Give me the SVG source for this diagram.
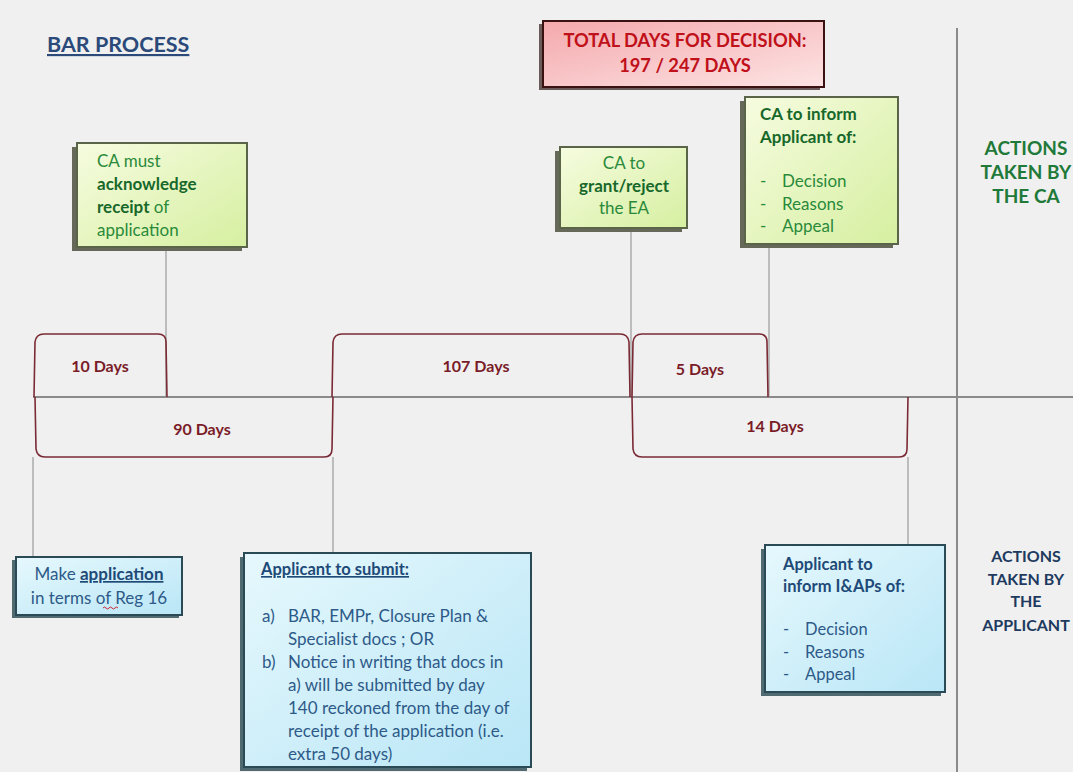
<svg xmlns="http://www.w3.org/2000/svg" width="1073" height="772" viewBox="0 0 1073 772">
<defs>
<linearGradient id="gGreen" x1="0" y1="0" x2="1" y2="1">
<stop offset="0" stop-color="#f6fce0"/>
<stop offset="1" stop-color="#d6efa0"/>
</linearGradient>
<linearGradient id="gBlue" x1="0" y1="0" x2="1" y2="1">
<stop offset="0" stop-color="#e6f8fd"/>
<stop offset="1" stop-color="#b9e6f6"/>
</linearGradient>
<linearGradient id="gPink" x1="0" y1="0" x2="1" y2="1">
<stop offset="0" stop-color="#f4a9ad"/>
<stop offset="1" stop-color="#fde4e4"/>
</linearGradient>
<style>
text{font-family:Lato,"Liberation Sans",sans-serif;}
.gbox{fill:url(#gGreen);stroke:#5a6448;stroke-width:2;}
.bbox{fill:url(#gBlue);stroke:#2a4a55;stroke-width:2;}
.gsh{fill:#66685a;}
.bsh{fill:#4f6a70;}
.gt{font-size:17px;fill:#2a8a3a;}
.gtb{font-weight:bold;fill:#17682a;}
.bt{font-size:16.5px;fill:#2d5a88;}
.bt2{font-size:17px;fill:#2d5a88;}
.btb{font-weight:bold;fill:#1e4a78;}
.day{font-size:16px;font-weight:bold;fill:#7a1c28;text-anchor:middle;}
.conn{stroke:#9a9a9a;stroke-width:1.2;fill:none;}
.axis{stroke:#8a8a8a;stroke-width:2;fill:none;}
.brk{stroke:#7a2a35;stroke-width:1.6;fill:none;}
.lca{font-size:19px;font-weight:bold;fill:#1f7a3a;text-anchor:middle;}
.lap{font-size:16px;font-weight:bold;fill:#1e3a5f;text-anchor:middle;}
</style>
</defs>
<rect x="0" y="0" width="1073" height="772" fill="#f0f0f0"/>

<g id="connectors">
<line class="axis" x1="33" y1="397" x2="1073" y2="397"/>
<line class="axis" x1="957" y1="28" x2="957" y2="772"/>
<line class="conn" x1="166" y1="247" x2="166" y2="397"/>
<line class="conn" x1="631" y1="228" x2="631" y2="397"/>
<line class="conn" x1="769" y1="244" x2="769" y2="397"/>
<line class="conn" x1="33" y1="457" x2="33" y2="557"/>
<line class="conn" x1="333" y1="457" x2="333" y2="553"/>
<line class="conn" x1="908" y1="457" x2="908" y2="545"/>
<path class="brk" d="M34,397 L35,342 Q36,334 44,334 L158,334 Q166,334 166,342 L167,397"/>
<path class="brk" d="M332,397 L333,342 Q334,334 342,334 L620,334 Q628,334 629,342 L630,397"/>
<path class="brk" d="M632,397 L633,342 Q634,334 642,334 L759,334 Q767,334 767,342 L768,397"/>
<path class="brk" d="M35,397 L36,449 Q37,457 45,457 L324,457 Q332,457 332,449 L333,397"/>
<path class="brk" d="M632,397 L633,449 Q634,457 642,457 L899,457 Q907,457 907,449 L908,397"/>
</g>

<g id="durations">
<text class="day" x="100" y="372">10 Days</text>
<text class="day" x="476" y="372">107 Days</text>
<text class="day" x="700" y="375">5 Days</text>
<text class="day" x="202" y="435">90 Days</text>
<text class="day" x="775" y="432">14 Days</text>
</g>

<g id="title">
<text x="47" y="52" font-size="21.5" font-weight="bold" fill="#2b4a7a" text-decoration="underline">BAR PROCESS</text>
</g>

<g id="total">
<rect x="539" y="24" width="281" height="66" fill="#6a5a5a"/>
<rect x="543" y="21" width="281" height="66" fill="url(#gPink)" stroke="#3a1212" stroke-width="2"/>
<text x="685" y="47" font-size="18.3" font-weight="bold" fill="#c0101a" text-anchor="middle">TOTAL DAYS FOR DECISION:</text>
<text x="685" y="72" font-size="18.3" font-weight="bold" fill="#c0101a" text-anchor="middle">197 / 247 DAYS</text>
</g>

<g id="ca-acknowledge">
<rect class="gsh" x="72" y="147" width="170" height="104"/>
<rect class="gbox" x="77" y="143" width="170" height="104"/>
<text class="gt" x="97" y="167">CA must</text>
<text class="gt gtb" x="97" y="190">acknowledge</text>
<text class="gt" x="97" y="213"><tspan class="gtb">receipt</tspan> of</text>
<text class="gt" x="97" y="236">application</text>
</g>

<g id="ca-grant">
<rect class="gsh" x="555" y="151" width="127" height="81"/>
<rect class="gbox" x="560" y="147" width="127" height="81"/>
<text class="gt" x="624" y="169" text-anchor="middle">CA to</text>
<text class="gt gtb" x="624" y="192" text-anchor="middle">grant/reject</text>
<text class="gt" x="624" y="214" text-anchor="middle">the EA</text>
</g>

<g id="ca-inform">
<rect class="gsh" x="740" y="101" width="153" height="147"/>
<rect class="gbox" x="745" y="97" width="153" height="147"/>
<text class="gt gtb" x="760" y="120">CA to inform</text>
<text class="gt gtb" x="760" y="143">Applicant of:</text>
<text class="gt" x="760" y="187">-</text><text class="gt" x="782" y="187">Decision</text>
<text class="gt" x="760" y="210">-</text><text class="gt" x="782" y="210">Reasons</text>
<text class="gt" x="760" y="232">-</text><text class="gt" x="782" y="232">Appeal</text>
</g>

<g id="ca-label">
<text class="lca" x="1026" y="155">ACTIONS</text>
<text class="lca" x="1026" y="179">TAKEN BY</text>
<text class="lca" x="1026" y="203">THE CA</text>
</g>

<g id="make-application">
<rect class="bsh" x="12" y="560" width="167" height="58"/>
<rect class="bbox" x="16" y="557" width="166" height="58"/>
<text class="bt2" x="99" y="580" text-anchor="middle">Make <tspan class="btb" text-decoration="underline">application</tspan></text>
<text class="bt2" x="99" y="604" text-anchor="middle">in terms of Reg 16</text>
<path d="M103,608 q1.5,-2 3,0 t3,0 t3,0 t3,0 t3,0" stroke="#d02030" stroke-width="1" fill="none"/>
</g>

<g id="applicant-submit">
<rect class="bsh" x="240" y="557" width="287" height="214"/>
<rect class="bbox" x="244" y="553" width="287" height="214"/>
<text class="bt btb" x="261" y="575" font-size="16" text-decoration="underline">Applicant to submit:</text>
<text class="bt2" x="262" y="622">a)</text><text class="bt2" x="288" y="622">BAR, EMPr, Closure Plan &amp;</text>
<text class="bt2" x="288" y="645">Specialist docs ; OR</text>
<text class="bt2" x="262" y="668">b)</text><text class="bt2" x="288" y="668">Notice in writing that docs in</text>
<text class="bt2" x="288" y="691">a) will be submitted by day</text>
<text class="bt2" x="288" y="714">140 reckoned from the day of</text>
<text class="bt2" x="288" y="737">receipt of the application (i.e.</text>
<text class="bt2" x="288" y="760">extra 50 days)</text>
</g>

<g id="applicant-inform">
<rect class="bsh" x="761" y="549" width="180" height="147"/>
<rect class="bbox" x="765" y="545" width="180" height="147"/>
<text class="bt btb" x="783" y="570">Applicant to</text>
<text class="bt btb" x="783" y="592">inform I&amp;APs of:</text>
<text class="bt" x="783" y="635">-</text><text class="bt" x="805" y="635">Decision</text>
<text class="bt" x="783" y="658">-</text><text class="bt" x="805" y="658">Reasons</text>
<text class="bt" x="783" y="680">-</text><text class="bt" x="805" y="680">Appeal</text>
</g>

<g id="applicant-label">
<text class="lap" x="1026" y="562">ACTIONS</text>
<text class="lap" x="1026" y="585">TAKEN BY</text>
<text class="lap" x="1026" y="607">THE</text>
<text class="lap" x="1026" y="631">APPLICANT</text>
</g>
</svg>
